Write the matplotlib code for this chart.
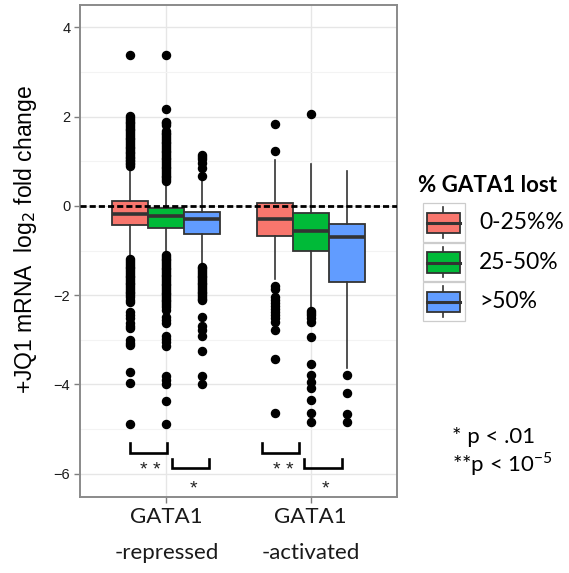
import matplotlib
matplotlib.use("Agg")
import matplotlib.pyplot as plt
from matplotlib.patches import Rectangle

# ---- data -------------------------------------------------------------
groups = ["GATA1\n-repressed", "GATA1\n-activated"]
classes = ["0-25%%", "25-50%", ">50%"]
colors = ["#F8766D", "#00BA38", "#619CFF"]

# box statistics per group, ordered by class: (whislo, q1, med, q3, whishi)
repressed_stats = [
    (-1.15, -0.43, -0.18, 0.10, 0.86),
    (-1.07, -0.49, -0.22, -0.05, 0.52),
    (-1.30, -0.63, -0.30, -0.13, 0.58),
]
activated_stats = [
    (-1.64, -0.67, -0.29, 0.06, 1.02),
    (-2.26, -1.02, -0.56, -0.17, 0.93),
    (-3.64, -1.71, -0.70, -0.41, 0.78),
]

repressed_fliers = [
    [0.90, 0.93, 0.96, 1.00, 1.03, 1.07, 1.10, 1.14, 1.18, 1.21, 1.25, 1.29,
     1.33, 1.37, 1.41, 1.45, 1.49, 1.53, 1.57, 1.61, 1.65, 1.69, 1.73, 1.77,
     1.81, 1.85, 1.89, 1.93, 1.97, 2.01, 3.38,
     -1.20, -1.24, -1.28, -1.32, -1.36, -1.40, -1.44, -1.48, -1.52, -1.56,
     -1.60, -1.64, -1.68, -1.72, -1.76, -1.80, -1.84, -1.88, -1.92, -1.96,
     -2.00, -2.05, -2.10, -2.16, -2.37, -2.45, -2.52, -2.62, -2.70, -2.74,
     -3.00, -3.06, -3.12, -3.73, -3.96, -4.89],
    [0.56, 0.60, 0.64, 0.68, 0.72, 0.76, 0.80, 0.84, 0.88, 0.92, 0.96, 1.00,
     1.04, 1.08, 1.12, 1.16, 1.20, 1.24, 1.28, 1.32, 1.36, 1.40, 1.44, 1.48,
     1.52, 1.56, 1.60, 1.64, 1.68, 1.82, 1.86, 1.89, 2.17, 3.38,
     -1.10, -1.14, -1.18, -1.22, -1.26, -1.30, -1.34, -1.38, -1.42, -1.46,
     -1.50, -1.54, -1.58, -1.62, -1.66, -1.70, -1.74, -1.78, -1.82, -1.86,
     -1.90, -1.94, -1.98, -2.02, -2.06, -2.10, -2.14, -2.18, -2.22, -2.27,
     -2.33, -2.48, -2.55, -2.63, -2.91, -2.98, -3.05, -3.14, -3.81, -3.90,
     -3.98, -4.37, -4.89],
    [0.66, 0.85, 0.95, 1.04, 1.09, 1.14,
     -1.36, -1.40, -1.44, -1.48, -1.52, -1.56, -1.60, -1.64, -1.68, -1.72,
     -1.76, -1.80, -1.84, -1.88, -1.92, -1.96, -2.00, -2.04, -2.08, -2.11,
     -2.48, -2.70, -2.78, -2.91, -3.25, -3.81, -4.00],
]
activated_fliers = [
    [1.23, 1.84,
     -1.79, -1.85, -2.03, -2.10, -2.17, -2.24, -2.31, -2.38, -2.45, -2.52,
     -2.59, -2.77, -3.43, -4.63],
    [2.06,
     -2.35, -2.40, -2.45, -2.52, -2.59, -2.93, -3.54, -3.79, -3.94, -4.07,
     -4.35, -4.63, -4.84],
    [-3.79, -4.19, -4.65, -4.84],
]

# significance brackets: (x_left, x_right, y_bottom, y_top, label, label_x, label_baseline)
brackets = [
    (0.747, 1.002, -5.53, -5.32, "* *", 0.891, -6.02),
    (1.037, 1.296, -5.88, -5.68, "*", 1.185, -6.43),
    (1.666, 1.923, -5.53, -5.32, "* *", 1.808, -6.02),
    (1.956, 2.217, -5.88, -5.68, "*", 2.101, -6.43),
]

y_ticks = [-6, -4, -2, 0, 2, 4]

# ---- figure -----------------------------------------------------------
W, H = 569, 573
fig = plt.figure(figsize=(W / 100, H / 100), dpi=100)
ax = fig.add_axes([80 / W, 1 - 497 / H, 317 / W, 492 / H])

arial = "Liberation Sans"
calibri = "Lato"

offsets = [-0.25, 0.0, 0.25]
for gi, (stats_set, fliers_set) in enumerate([(repressed_stats, repressed_fliers),
                                              (activated_stats, activated_fliers)]):
    for ci, (st, fl) in enumerate(zip(stats_set, fliers_set)):
        lo, q1, med, q3, hi = st
        d = dict(whislo=lo, q1=q1, med=med, q3=q3, whishi=hi, fliers=fl)
        ax.bxp([d], positions=[gi + 1 + offsets[ci]], widths=0.25,
               patch_artist=True, showcaps=False,
               boxprops=dict(facecolor=colors[ci], edgecolor="#333333", linewidth=1.3),
               medianprops=dict(color="#333333", linewidth=2.6),
               whiskerprops=dict(color="#333333", linewidth=1.2),
               flierprops=dict(marker="o", markerfacecolor="black",
                               markeredgecolor="black", markersize=5.8, linestyle="none"),
               zorder=3)

ax.axhline(0, color="black", linewidth=2.0, dashes=(2.2, 1.1), zorder=5)

for xl, xr, yb, yt, lab, lx, ly in brackets:
    ax.plot([xl, xl, xr, xr], [yt, yb, yb, yt], color="black", linewidth=1.9,
            solid_joinstyle="miter", zorder=4)
    ax.text(lx, ly, lab, ha="center", va="baseline", fontsize=14,
            family=arial, color="#222222")

ax.set_xlim(0.4, 2.6)
ax.set_ylim(-6.52, 4.5)
ax.set_yticks(y_ticks)
ax.set_yticklabels([("\u2212%d" % -t) if t < 0 else str(t) for t in y_ticks],
                   family=arial, fontsize=10.5, color="#1a1a1a")
ax.set_yticks([-5, -3, -1, 1, 3], minor=True)
ax.set_xticks([1, 2])
ax.set_xticklabels(groups, family=calibri, fontsize=16, color="#1a1a1a",
                   linespacing=2.0)
ax.tick_params(axis="both", which="major", length=4, width=1.0, color="#7f7f7f", pad=3)
ax.tick_params(axis="x", pad=3)
ax.tick_params(axis="y", which="minor", length=0)

ax.grid(True, which="major", color="#e6e6e6", linewidth=1.0, zorder=0)
ax.grid(True, which="minor", axis="y", color="#f3f3f3", linewidth=0.8, zorder=0)
ax.set_axisbelow(True)
for s in ax.spines.values():
    s.set_color("#8a8a8a")
    s.set_linewidth(1.4)

fig.text(26 / W, 1 - 240 / H, r"+JQ1 mRNA  log$_2$ fold change", rotation=90,
         ha="center", va="center", family=arial, fontsize=16.5)

# ---- legend and footnotes (pixel-coordinate overlay) ------------------
lax = fig.add_axes([0, 0, 1, 1])
lax.set_xlim(0, W)
lax.set_ylim(H, 0)
lax.axis("off")

lax.text(418, 186, "% GATA1 lost", ha="left", va="center", family=calibri,
         fontweight="bold", fontsize=16)
key_top = 203
key_h = 39.5
for i, (lab, c) in enumerate(zip(classes, colors)):
    top = key_top + i * key_h
    lax.add_patch(Rectangle((423, top), 42, key_h - 1, facecolor="white",
                            edgecolor="#cccccc", linewidth=0.9))
    cx = 443.5
    lax.plot([cx, cx], [top + 4, top + key_h - 5], color="#333333", linewidth=1.2)
    lax.add_patch(Rectangle((427, top + 9.5), 33, 20.5, facecolor=c,
                            edgecolor="#333333", linewidth=1.3, zorder=3))
    lax.plot([427, 460], [top + 20, top + 20], color="#333333", linewidth=2.2, zorder=4)
    lax.text(479, top + key_h / 2, lab, ha="left", va="center", family=calibri,
             fontsize=16.5)

lax.text(452, 437, "* p < .01", ha="left", va="center", family=calibri, fontsize=16)
lax.text(452, 464, r"**p < 10$^{\mathregular{-5}}$", ha="left", va="center",
         family=calibri, fontsize=16)

fig.savefig("out.png", dpi=100)
